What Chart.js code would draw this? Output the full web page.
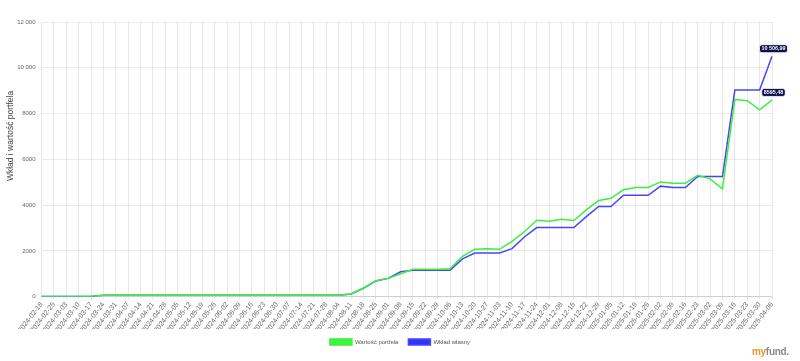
<!DOCTYPE html>
<html>
<head>
<meta charset="utf-8">
<script src="https://cdn.jsdelivr.net/npm/chart.js@4.4.1/dist/chart.umd.min.js"></script>
<style>
  html, body { margin: 0; padding: 0; background: #ffffff; }
  #wrap { position: relative; width: 800px; height: 361px; }
  canvas { display: block; }
  #logo { position: absolute; left: 752px; top: 346px; font-family: "Liberation Sans", Arial, sans-serif; font-size: 10px; font-weight: bold; letter-spacing: -0.3px; }
  #logo .a { color: #e8962a; }
  #logo .b { color: #8a8a8a; }
</style>
</head>
<body>
<div id="wrap">
  <canvas id="c" width="800" height="361"></canvas>
  <div id="logo"><span class="a">my</span><span class="b">fund.</span></div>
</div>
<script>
const categories = [
  "2024-02-18","2024-02-25","2024-03-03","2024-03-10","2024-03-17","2024-03-24","2024-03-31","2024-04-07","2024-04-14","2024-04-21",
  "2024-04-28","2024-05-05","2024-05-12","2024-05-19","2024-05-26","2024-06-02","2024-06-09","2024-06-16","2024-06-23","2024-06-30",
  "2024-07-07","2024-07-14","2024-07-21","2024-07-28","2024-08-04","2024-08-11","2024-08-18","2024-08-25","2024-09-01","2024-09-08",
  "2024-09-15","2024-09-22","2024-09-29","2024-10-06","2024-10-13","2024-10-20","2024-10-27","2024-11-03","2024-11-10","2024-11-17",
  "2024-11-24","2024-12-01","2024-12-08","2024-12-15","2024-12-22","2024-12-29","2025-01-05","2025-01-12","2025-01-19","2025-01-26",
  "2025-02-02","2025-02-09","2025-02-16","2025-02-23","2025-03-02","2025-03-09","2025-03-16","2025-03-23","2025-03-30","2025-04-06"
];
const wartoscPortfela = [
  10,10,10,10,10,65,65,65,65,65,
  65,65,65,65,65,65,65,65,65,65,
  65,65,65,65,65,120,370,700,800,1000,
  1200,1200,1200,1225,1765,2070,2090,2070,2420,2840,
  3340,3300,3385,3325,3790,4200,4300,4670,4770,4770,
  5015,4960,4960,5305,5150,4710,8615,8560,8165,8595.48
];
const wkladWlasny = [
  10,10,10,10,10,65,65,65,65,65,
  65,65,65,65,65,65,65,65,65,65,
  65,65,65,65,65,120,370,690,800,1090,
  1160,1160,1160,1160,1650,1910,1910,1910,2100,2610,
  3020,3020,3020,3020,3500,3940,3940,4430,4430,4430,
  4830,4770,4770,5250,5250,5250,9025,9025,9025,10506.99
];
const yTickValues = [0, 2000, 4000, 6000, 8000, 10000, 12000];
const yTickLabels = ["0", "2000", "4000", "6000", "8000", "10 000", "12 000"];
const seriesNames = ["Wartość portfela", "Wkład własny"];
const yTitle = "Wkład i wartość portfela";

const FONT = "'Liberation Sans', Arial, sans-serif";

function fmtPL(v) {
  const parts = v.toFixed(2).split(".");
  let intPart = parts[0];
  if (intPart.length > 4) intPart = intPart.replace(/\B(?=(\d{3})+(?!\d))/g, " ");
  return intPart + "," + parts[1];
}

const lastLabelPlugin = {
  id: "lastLabel",
  afterDatasetsDraw(chart) {
    const ctx = chart.ctx;
    chart.data.datasets.forEach((ds, di) => {
      const meta = chart.getDatasetMeta(di);
      const n = ds.data.length - 1;
      const pt = meta.data[n];
      const text = fmtPL(ds.data[n]);
      ctx.save();
      ctx.font = "bold 5.4px " + FONT;
      const w = ctx.measureText(text).width + 4;
      const h = 8;
      const x = pt.x + 1.5 - w / 2;
      const y = pt.y - 3.5 - h;
      const r = 2.5;
      ctx.beginPath();
      ctx.moveTo(x + r, y);
      ctx.lineTo(x + w - r, y);
      ctx.quadraticCurveTo(x + w, y, x + w, y + r);
      ctx.lineTo(x + w, y + h - r);
      ctx.quadraticCurveTo(x + w, y + h, x + w - r, y + h);
      ctx.lineTo(x + r, y + h);
      ctx.quadraticCurveTo(x, y + h, x, y + h - r);
      ctx.lineTo(x, y + r);
      ctx.quadraticCurveTo(x, y, x + r, y);
      ctx.closePath();
      ctx.fillStyle = "#0e0e4a";
      ctx.fill();
      ctx.lineWidth = 0.8;
      ctx.strokeStyle = "#ffffff";
      ctx.stroke();
      ctx.fillStyle = "#ffffff";
      ctx.textAlign = "center";
      ctx.textBaseline = "middle";
      ctx.fillText(text, x + w / 2, y + h / 2 + 0.3);
      ctx.restore();
    });
  }
};

const yTitlePlugin = {
  id: "yTitleDraw",
  afterDraw(chart) {
    const ctx = chart.ctx;
    ctx.save();
    ctx.translate(10.5, 136);
    ctx.rotate(-Math.PI / 2);
    ctx.font = "8.5px " + FONT;
    ctx.fillStyle = "#444";
    ctx.textAlign = "center";
    ctx.textBaseline = "middle";
    ctx.fillText(yTitle, 0, 0);
    ctx.restore();
  }
};

new Chart(document.getElementById("c"), {
  type: "line",
  data: {
    labels: categories,
    datasets: [
      {
        label: seriesNames[0],
        data: wartoscPortfela,
        borderColor: "rgb(60, 240, 60)",
        backgroundColor: "rgb(60, 245, 60)",
        borderWidth: 1.5,
        pointRadius: 0,
        tension: 0,
        fill: false
      },
      {
        label: seriesNames[1],
        data: wkladWlasny,
        borderColor: "rgb(70, 70, 250)",
        backgroundColor: "rgb(50, 50, 255)",
        borderWidth: 1.5,
        pointRadius: 0,
        tension: 0,
        fill: false
      }
    ]
  },
  options: {
    responsive: false,
    animation: false,
    layout: { padding: { top: 22, right: 0, left: 0, bottom: 6 } },
    plugins: {
      legend: {
        position: "bottom",
        labels: {
          boxWidth: 22,
          boxHeight: 6,
          padding: 10,
          color: "#555",
          font: { size: 6, family: FONT }
        }
      },
      tooltip: { enabled: false }
    },
    scales: {
      x: {
        grid: { color: "rgba(0,0,0,0.09)", drawTicks: true, tickLength: 3 },
        border: { color: "rgba(0,0,0,0.12)" },
        ticks: {
          autoSkip: false,
          minRotation: 52,
          maxRotation: 52,
          padding: 1,
          color: "#666",
          font: { size: 7, family: FONT }
        },
        afterFit(s) { s.height = 32.3; }
      },
      y: {
        min: 0,
        max: 12000,
        afterBuildTicks(s) { s.ticks = yTickValues.map(v => ({ value: v })); },
        grid: { color: "rgba(0,0,0,0.08)", drawTicks: false },
        border: { display: false },
        ticks: {
          padding: 6,
          color: "#666",
          font: { size: 6, family: FONT },
          callback(value) {
            const i = yTickValues.indexOf(value);
            return i >= 0 ? yTickLabels[i] : "";
          }
        },
        afterFit(s) { s.width = 41.5; }
      },
      yRight: {
        position: "right",
        display: true,
        grid: { display: false, drawTicks: false },
        border: { display: false },
        ticks: { display: false },
        afterFit(s) { s.width = 28; }
      }
    }
  },
  plugins: [lastLabelPlugin, yTitlePlugin]
});
</script>
</body>
</html>
